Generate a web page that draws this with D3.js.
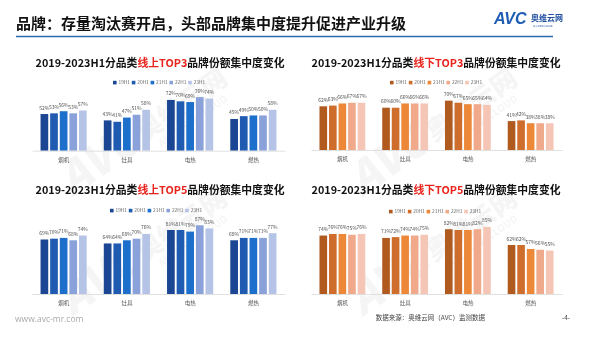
<!DOCTYPE html>
<html><head><meta charset="utf-8">
<script src="https://cdn.jsdelivr.net/npm/d3@7"></script>
<style>
body{margin:0;background:#fff;}
svg{display:block;font-family:"Noto Sans CJK SC","Noto Sans",sans-serif;}
</style></head>
<body><svg id="c" width="600" height="337"></svg>
<script>
const categories = ["烟机","灶具","电热","燃热"];
const seriesNames = ["19H1","20H1","21H1","22H1","23H1"];
// values[category][series]
const onlineTop3  = [[52,53,56,53,57],[43,41,47,51,58],[72,70,69,76,74],[45,49,50,50,58]];
const offlineTop3 = [[62,63,66,67,67],[60,60,66,66,66],[70,67,65,65,64],[41,42,38,38,38]];
const onlineTop5  = [[69,70,71,68,74],[64,64,68,70,76],[81,81,79,87,83],[68,71,71,71,77]];
const offlineTop5 = [[74,76,76,75,76],[71,72,74,74,75],[82,81,81,82,85],[62,62,57,56,55]];
const blueColors = ["#1b4693","#1f5bb0","#1d6fcc","#8aa2d9","#b5c4e6"];
const orangeColors = ["#b05a1f","#cf6d2c","#ec8838","#f0a98b","#f5c6b6"];

const svg = d3.select("#c");

// watermark
const wm = svg.append("g").attr("opacity",0.05).attr("fill","#333");
[[140,150],[430,150],[140,270],[430,270]].forEach(([x,y])=>{
  const g = wm.append("g").attr("transform",`translate(${x},${y}) rotate(-35)`);
  g.append("text").attr("text-anchor","middle").attr("font-size",44).attr("font-weight",900).attr("font-style","italic").attr("x",-40).text("AVC");
  g.append("text").attr("text-anchor","middle").attr("font-size",26).attr("font-weight",900).attr("x",60).attr("y",-4).text("奥维云网");
  g.append("text").attr("text-anchor","middle").attr("font-size",10).attr("font-weight",700).attr("x",60).attr("y",10).text("ALL VIEW CLOUD");
});

// header
svg.append("text").attr("x",16).attr("y",29).attr("font-size",15).attr("font-weight",700).attr("fill","#111")
  .text("品牌：存量淘汰赛开启，头部品牌集中度提升促进产业升级");
svg.append("line").attr("x1",16).attr("x2",553).attr("y1",36.5).attr("y2",36.5).attr("stroke","#2e6db4").attr("stroke-width",1.6);
// logo
svg.append("text").attr("x",494).attr("y",24).attr("font-size",16).attr("font-weight",900).attr("font-style","italic").attr("fill","#1f5db5").attr("font-family","Liberation Sans, Arial").text("AVC");
svg.append("text").attr("x",531).attr("y",21).attr("font-size",8).attr("font-weight",700).attr("fill","#1f4fa0").text("奥维云网");
svg.append("text").attr("x",533).attr("y",27).attr("font-size",2.5).attr("fill","#1f4fa0").text("ALL VIEW CLOUD");

// footer
svg.append("text").attr("x",15).attr("y",322).attr("font-size",8.5).attr("fill","#aaa").attr("font-family","Open Sans, sans-serif").text("www.avc-mr.com");
svg.append("text").attr("x",485).attr("y",320).attr("text-anchor","end").attr("font-size",6.5).attr("fill","#444").text("数据来源：奥维云网（AVC）监测数据");
svg.append("text").attr("x",566).attr("y",320).attr("text-anchor","middle").attr("font-size",6.5).attr("fill","#444").text("-4-");

function panel(opt){
  const g = svg.append("g");
  // title
  const t = g.append("text").attr("x",opt.cx).attr("y",opt.titleY).attr("text-anchor","middle")
    .attr("font-size",10.8).attr("font-weight",700).attr("fill","#111");
  t.append("tspan").text("2019-2023H1分品类");
  t.append("tspan").attr("fill","#e8231c").text(opt.red);
  t.append("tspan").text("品牌份额集中度变化");
  // legend
  const lg = g.append("g").attr("transform",`translate(${opt.legX},${opt.legY})`);
  seriesNames.forEach((s,i)=>{
    const x = i*18.8;
    lg.append("rect").attr("x",x).attr("y",-2.2).attr("width",3.6).attr("height",3.6).attr("fill",opt.colors[i]);
    lg.append("text").attr("x",x+5.5).attr("y",1.4).attr("font-size",4.8).attr("fill","#666").text(s);
  });
  const x0 = d3.scaleBand().domain(categories).range(opt.xRange).paddingInner(0.27).paddingOuter(0.135);
  const x1 = d3.scaleBand().domain(seriesNames).range([0,x0.bandwidth()]).paddingInner(0.2);
  const y = d3.scaleLinear().domain([0,100]).range([opt.base, opt.base-opt.h]);
  const grp = g.selectAll(".cat").data(categories).join("g")
    .attr("transform",d=>`translate(${x0(d)},0)`);
  grp.each(function(c,ci){
    const gg = d3.select(this);
    const vals = opt.data[ci];
    gg.selectAll("rect").data(vals).join("rect")
      .attr("x",(v,i)=>x1(seriesNames[i])).attr("width",x1.bandwidth())
      .attr("y",v=>y(v)).attr("height",v=>y(0)-y(v))
      .attr("fill",(v,i)=>opt.colors[i]);
    gg.selectAll("text").data(vals).join("text")
      .attr("x",(v,i)=>x1(seriesNames[i])+x1.bandwidth()/2).attr("y",v=>y(v)-4.5)
      .attr("text-anchor","middle").attr("font-size",5).attr("fill","#555").text(v=>v+"%");
  });
  // axis
  const ax = g.append("g").attr("transform",`translate(0,${opt.base})`)
    .call(d3.axisBottom(x0).tickSize(0).tickPadding(7));
  ax.select(".domain").attr("stroke","#d9d9d9").attr("stroke-width",0.8);
  ax.selectAll("text").attr("font-size",5.5).attr("fill","#555").attr("font-family","Noto Sans CJK SC");
}

panel({data:onlineTop3, colors:blueColors, red:"线上TOP3", cx:160, titleY:67, legX:113, legY:83, xRange:[32,285], base:150.7, h:70.5});
panel({data:offlineTop3, colors:orangeColors, red:"线下TOP3", cx:436, titleY:67, legX:390, legY:83, xRange:[311,562], base:150, h:70.5});
panel({data:onlineTop5, colors:blueColors, red:"线上TOP5", cx:160, titleY:194, legX:110, legY:211, xRange:[32,285], base:294, h:79});
panel({data:offlineTop5, colors:orangeColors, red:"线下TOP5", cx:436, titleY:194, legX:389, legY:212, xRange:[311,562], base:294, h:79});
</script></body></html>
